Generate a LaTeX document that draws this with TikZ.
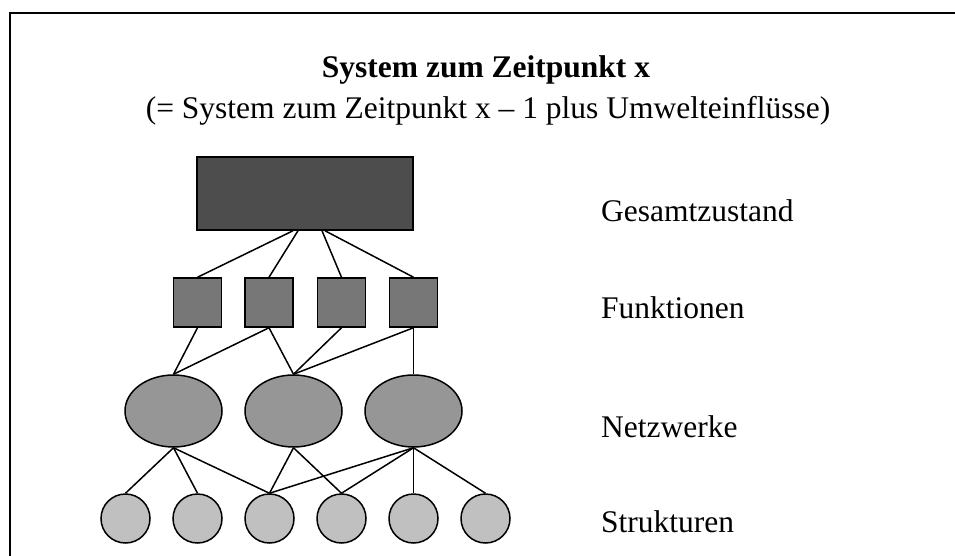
\documentclass[tikz,border=0pt]{standalone}
\usepackage{fontspec}
\setmainfont{Liberation Serif}
\usetikzlibrary{shapes.geometric}

\definecolor{dunkel}{HTML}{4D4D4D}
\definecolor{mittel}{HTML}{777777}
\definecolor{hell}{HTML}{969696}
\definecolor{blass}{HTML}{C0C0C0}

\begin{document}
\begin{tikzpicture}[x=1pt,y=-1pt,
	knoten/.style={draw=black,line width=1.5pt,inner sep=0pt},
	zustand/.style={knoten,rectangle,fill=dunkel,minimum width=216pt,minimum height=73pt},
	funktion/.style={knoten,rectangle,fill=mittel,minimum width=48pt,minimum height=49pt},
	netz/.style={knoten,ellipse,fill=hell,minimum width=97pt,minimum height=72pt},
	struktur/.style={knoten,circle,fill=blass,minimum size=49pt},
	kante/.style={line width=1.5pt},
	schrift/.style={inner sep=0pt,font=\fontsize{31.5}{36}\selectfont}]
	
	\useasboundingbox (0,0) rectangle (955,556);

	% frame
	\draw[line width=2.2pt] (10,556) -- (10,13) -- (955,13);

	% titles
	\node[schrift,anchor=base,font=\fontsize{31.5}{36}\selectfont\bfseries] (titel) at (486,77.5) {System zum Zeitpunkt x};
	\node[schrift,anchor=base] (untertitel) at (488,119) {(= System zum Zeitpunkt x -- 1 plus Umwelteinflüsse)};

	% levels
	\node[zustand] (gesamt) at (305,193.5) {};

	\node[funktion] (f1) at (197.5,302.5) {};
	\node[funktion] (f2) at (269,302.5) {};
	\node[funktion] (f3) at (341.5,302.5) {};
	\node[funktion] (f4) at (413.5,302.5) {};

	\node[netz] (n1) at (173.5,411) {};
	\node[netz] (n2) at (293.5,411) {};
	\node[netz] (n3) at (413.5,411) {};

	\foreach \i/\x in {1/125.5,2/197.5,3/269.5,4/341.5,5/413.5,6/485.5}
		\node[struktur] (s\i) at (\x,518.5) {};

	% level labels
	\node[schrift,anchor=base west] (lgesamt) at (601,222) {Gesamtzustand};
	\node[schrift,anchor=base west] (lfunktion) at (601,318) {Funktionen};
	\node[schrift,anchor=base west] (lnetz) at (601,437.5) {Netzwerke};
	\node[schrift,anchor=base west] (lstruktur) at (601,532) {Strukturen};

	% edges
	\draw[kante] ([xshift=-12pt]gesamt.south) -- (f1.north);
	\draw[kante] ([xshift=-7pt]gesamt.south) -- (f2.north);
	\draw[kante] ([xshift=17pt]gesamt.south) -- (f3.north);
	\draw[kante] ([xshift=20pt]gesamt.south) -- (f4.north);

	\draw[kante] (f1.south) -- (n1.north);
	\draw[kante] (f2.south) -- (n1.north);
	\draw[kante] (f2.south) -- (n2.north);
	\draw[kante] (f3.south) -- (n2.north);
	\draw[kante] (f4.south) -- (n2.north);
	\draw[kante] (f4.south) -- (n3.north);

	\draw[kante] (n1.south) -- (s1.north);
	\draw[kante] (n1.south) -- (s2.north);
	\draw[kante] (n1.south) -- (s3.north);
	\draw[kante] (n2.south) -- (s3.north);
	\draw[kante] (n2.south) -- (s4.north);
	\draw[kante] (n3.south) -- (s3.north);
	\draw[kante] (n3.south) -- (s4.north);
	\draw[kante] (n3.south) -- (s5.north);
	\draw[kante] (n3.south) -- (s6.north);

\end{tikzpicture}
\end{document}
